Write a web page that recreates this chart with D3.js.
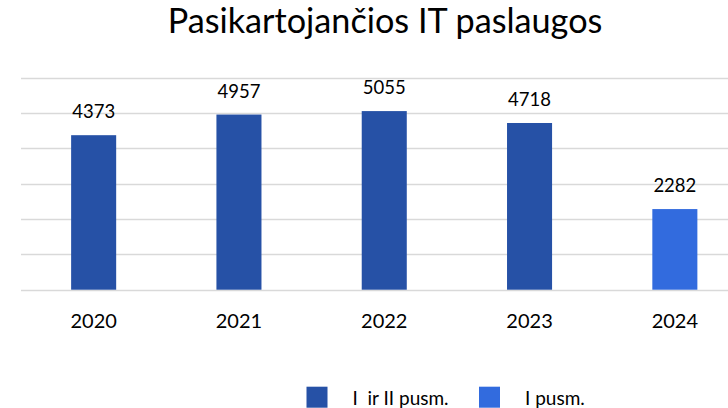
<!DOCTYPE html>
<html><head><meta charset="utf-8">
<script src="https://cdn.jsdelivr.net/npm/d3@7"></script>
<style>html,body{margin:0;padding:0;background:#fff;overflow:hidden}</style>
</head><body>
<svg id="c" width="728" height="408"></svg>
<script>
const title = "Pasikartojančios IT paslaugos";
const years = ["2020", "2021", "2022", "2023", "2024"];
const values = [4373, 4957, 5055, 4718, 2282];
const seriesOf = ["I ir II pusm.", "I ir II pusm.", "I ir II pusm.", "I ir II pusm.", "I pusm."];
const legendNames = ["I  ir II pusm.", "I pusm."];
const yTicks = [0, 1000, 2000, 3000, 4000, 5000, 6000];

const colors = {"I ir II pusm.": "#2651A6", "I pusm.": "#326BDE"};
const font = "Lato, 'Open Sans', sans-serif";
const svg = d3.select("#c");

const x = d3.scaleBand().domain(years).range([21, 747.5]).paddingInner(0.69).paddingOuter(0.345);
const y = d3.scaleLinear().domain([0, 6000]).range([289.7, 77.7]);

// gridlines
svg.append("g").selectAll("line").data(yTicks).join("line")
  .attr("x1", 21).attr("x2", 747.5)
  .attr("y1", d => Math.round(y(d)) + 0.5).attr("y2", d => Math.round(y(d)) + 0.5)
  .attr("stroke", "#D9D9D9").attr("stroke-width", 1.5);

// bars
svg.append("g").selectAll("rect").data(years).join("rect")
  .attr("x", d => x(d)).attr("width", x.bandwidth())
  .attr("y", (d, i) => y(values[i])).attr("height", (d, i) => y(0) - y(values[i]))
  .attr("fill", (d, i) => colors[seriesOf[i]]);

// value labels
svg.append("g").selectAll("text").data(years).join("text")
  .attr("x", d => x(d) + x.bandwidth() / 2)
  .attr("y", (d, i) => y(values[i]) - 17)
  .attr("text-anchor", "middle").attr("font-family", font).attr("font-size", 18.5).attr("fill", "#000")
  .text((d, i) => values[i]);

// x axis labels
const xa = svg.append("g").attr("transform", "translate(0,289.7)")
  .call(d3.axisBottom(x).tickSize(0).tickPadding(0));
xa.select(".domain").remove();
xa.selectAll("text").attr("dy", null).attr("y", 38.6)
  .attr("font-family", font).attr("font-size", 20).attr("fill", "#000");

// title
const t = svg.append("text").attr("x", 385).attr("y", 33.3).attr("text-anchor", "middle")
  .attr("font-family", font).attr("font-size", 34).attr("fill", "#000").text(title);
const w = t.node().getComputedTextLength();
if (w > 0) t.attr("font-size", 34 * 435 / w);

// legend
const legX = [306.5, 479];
const lg = svg.append("g");
legendNames.forEach((n, i) => {
  lg.append("rect").attr("x", legX[i]).attr("y", 386.7).attr("width", 21).attr("height", 21)
    .attr("fill", colors[Object.keys(colors)[i]]);
  lg.append("text").attr("x", legX[i] + 46).attr("y", 405).attr("font-family", font)
    .attr("font-size", 19).attr("fill", "#000").attr("xml:space", "preserve").text(n);
});
</script>
</body></html>
